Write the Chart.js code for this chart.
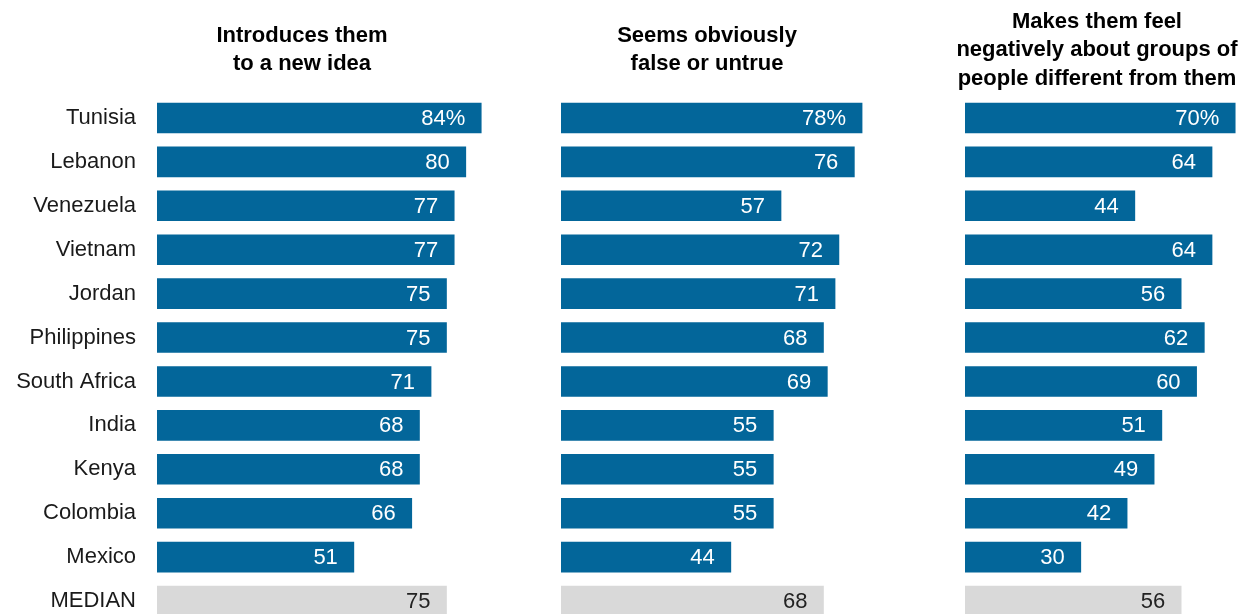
<!DOCTYPE html>
<html>
<head>
<meta charset="utf-8">
<script src="https://cdn.jsdelivr.net/npm/chart.js@4.4.1/dist/chart.umd.min.js"></script>
<style>
  html, body { margin: 0; padding: 0; background: #fff; overflow: hidden; width: 1247px; height: 614px; }
  .panel { position: absolute; top: 0; }
</style>
</head>
<body>
<canvas id="newIdeaChart" class="panel" width="543" height="623" style="left:0"></canvas>
<canvas id="falseChart" class="panel" width="386" height="623" style="left:561px"></canvas>
<canvas id="negativeChart" class="panel" width="406" height="623" style="left:945px"></canvas>
<script>
const countries = ['Tunisia', 'Lebanon', 'Venezuela', 'Vietnam', 'Jordan', 'Philippines', 'South Africa', 'India', 'Kenya', 'Colombia', 'Mexico', 'MEDIAN'];
const newIdea = [84, 80, 77, 77, 75, 75, 71, 68, 68, 66, 51, 75];
const falseOrUntrue = [78, 76, 57, 72, 71, 68, 69, 55, 55, 55, 44, 68];
const negativeAboutGroups = [70, 64, 44, 64, 56, 62, 60, 51, 49, 42, 30, 56];

const titleNewIdea = ['Introduces them', 'to a new idea'];
const titleFalse = ['Seems obviously', 'false or untrue'];
const titleNegative = ['Makes them feel', 'negatively about groups of', 'people different from them'];

const BLUE = '#03669a';
const GRAY = '#d9d9d9';
const FONT = '"Liberation Sans", Arial, sans-serif';

// value printed inside the end of each bar; the median row gets dark text
const valueLabels = {
  id: 'valueLabels',
  afterDatasetsDraw(chart) {
    const { ctx } = chart;
    const values = chart.data.datasets[0].data;
    const last = values.length - 1;
    ctx.save();
    ctx.font = '22px ' + FONT;
    ctx.textAlign = 'right';
    ctx.textBaseline = 'middle';
    chart.getDatasetMeta(0).data.forEach((bar, i) => {
      ctx.fillStyle = i === last ? '#222' : '#fff';
      ctx.fillText(values[i] + (i === 0 ? '%' : ''), bar.x - 16, bar.y + 1);
    });
    ctx.restore();
  }
};

// bold multi-line heading above each panel
const panelTitle = {
  id: 'panelTitle',
  afterDraw(chart, args, opts) {
    const { ctx, chartArea } = chart;
    const lines = opts.lines || [];
    const lineHeight = 28.5;
    const top = 50 - (lines.length - 1) * lineHeight / 2;
    ctx.save();
    ctx.font = 'bold 22px ' + FONT;
    ctx.fillStyle = '#000';
    ctx.textAlign = 'center';
    ctx.textBaseline = 'middle';
    lines.forEach((line, i) => ctx.fillText(line, chartArea.left + opts.offset, top + i * lineHeight));
    ctx.restore();
  }
};

function renderPanel(id, values, title, titleOffset, showCountries, padLeft) {
  const ctx = document.getElementById(id).getContext('2d');
  const yAxis = {
    display: showCountries,
    grid: { display: false, drawTicks: false },
    border: { display: false },
    ticks: {
      color: '#1a1a1a',
      font: { family: FONT, size: 22 },
      padding: 21,
      crossAlign: 'near'
    }
  };
  if (showCountries) {
    // fixed label column; no extra room above/below for the tick text
    yAxis.afterFit = (scale) => {
      scale.width = 157;
      scale.paddingTop = 0;
      scale.paddingBottom = 0;
    };
  }
  return new Chart(ctx, {
    type: 'bar',
    data: {
      labels: countries,
      datasets: [{
        data: values,
        backgroundColor: values.map((v, i) => (i === values.length - 1 ? GRAY : BLUE)),
        borderWidth: 0,
        barThickness: 30
      }]
    },
    plugins: [valueLabels, panelTitle],
    options: {
      indexAxis: 'y',
      responsive: false,
      maintainAspectRatio: false,
      animation: false,
      layout: { padding: { top: 96, left: padLeft, right: 0, bottom: 0 } },
      scales: {
        x: { display: false, min: 0, max: 100 },
        y: yAxis
      },
      plugins: {
        legend: { display: false },
        tooltip: { enabled: false },
        panelTitle: { lines: title, offset: titleOffset }
      }
    }
  });
}

renderPanel('newIdeaChart', newIdea, titleNewIdea, 145, true, 0);
renderPanel('falseChart', falseOrUntrue, titleFalse, 146, false, 0);
renderPanel('negativeChart', negativeAboutGroups, titleNegative, 132, false, 20);
</script>
</body>
</html>
